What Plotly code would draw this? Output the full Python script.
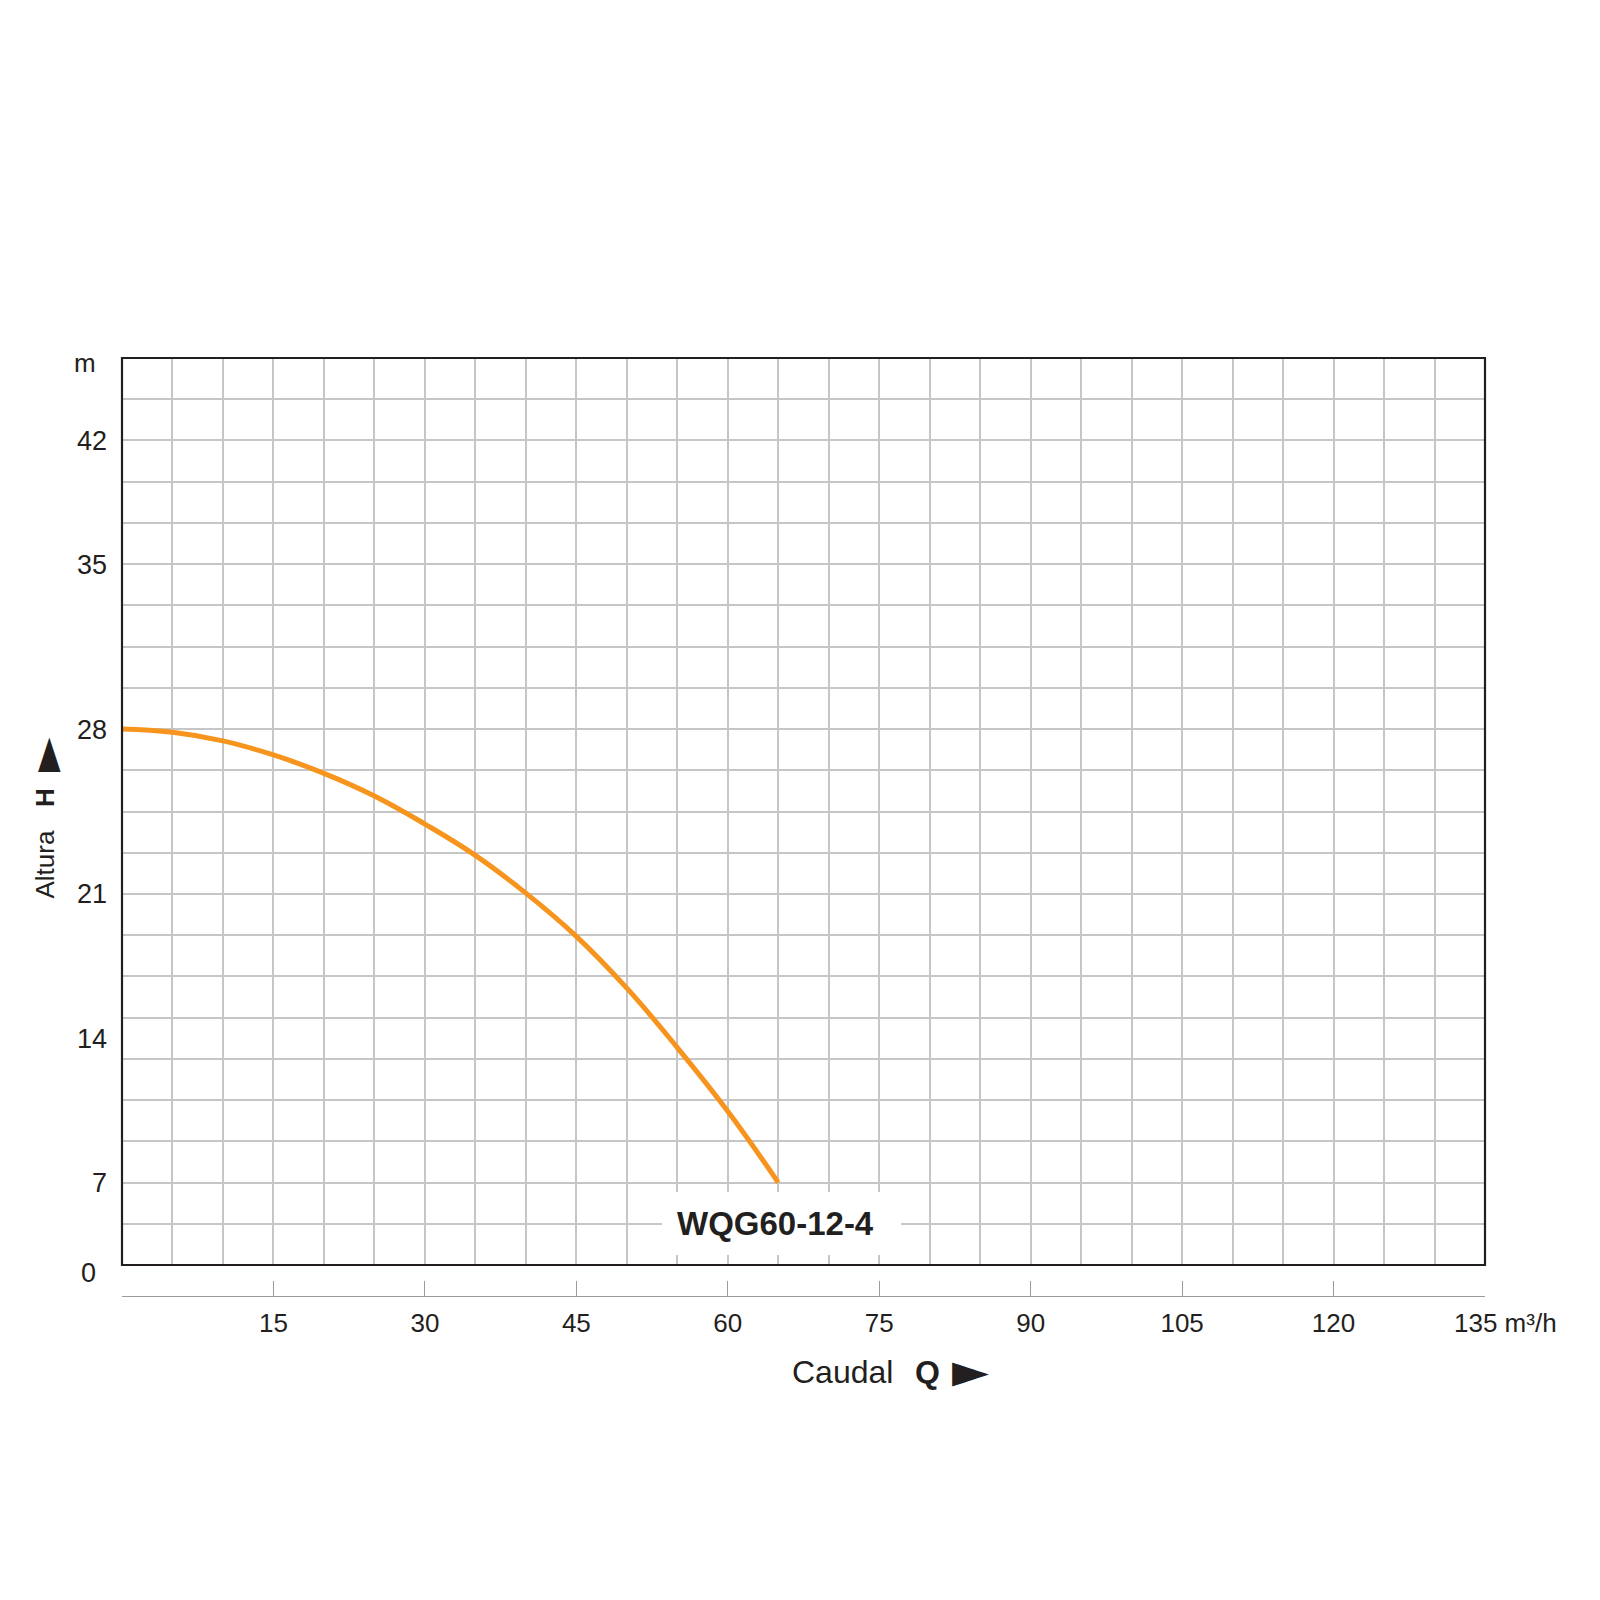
import plotly.graph_objects as go

# ---- data ----
flow_q = [0, 5, 10, 15, 20, 25, 30, 35, 40, 45, 50, 55, 60, 65]          # m³/h
head_h = [28.0, 27.85, 27.45, 26.8, 25.95, 24.9, 23.6, 22.15, 20.4, 18.4, 16.0, 13.25, 10.3, 7.0]  # m
model_name = "WQG60-12-4"

x_tick_vals = [15, 30, 45, 60, 75, 90, 105, 120, 135]
x_tick_text = ["15", "30", "45", "60", "75", "90", "105", "120", ""]
x_end_label = "135 m³/h"

# y labels as printed on the original chart, placed on its 22-row grid
y_tick_text = ["7", "14", "21", "28", "35", "42"]
y_tick_rows = [2, 5.5, 9, 13, 17, 20]
y_bottom_label = "0"
y_unit_label = "m"

x_title_word, x_title_symbol = "Caudal", "Q"
y_title_word, y_title_symbol = "Altura", "H"
arrow_glyph = "►"

# metres per grid row: 28 m sits on row 13 and 7 m on row 2
m_per_row = (28 - 7) / (13 - 2)
y_min_m = 7 - 2 * m_per_row
y_max_m = 7 + 20 * m_per_row
y_tick_vals = [y_min_m + r * m_per_row for r in y_tick_rows]

# ---- layout geometry (page pixels; the page body adds an 8 px offset) ----
OFF = 8
W = HT = 1600 - 2 * OFF
plot_left, plot_right, plot_top, plot_bottom, axis_line = 122, 1485, 358, 1265, 1296
L = plot_left - OFF
R = W - (plot_right - OFF)
T = plot_top - OFF
B = HT - (axis_line - OFF)
dom0 = (axis_line - plot_bottom) / (axis_line - plot_top)

def px(x):
    return (x - plot_left) / (plot_right - plot_left)

def py(y):
    return (axis_line - y) / (axis_line - plot_top)

FONT = "Liberation Sans, Arial, Helvetica, sans-serif"
GLYPH_FONT = "DejaVu Sans, sans-serif"
INK = "#231F20"
GRID = "#C6C6C6"
ORANGE = "#F7941D"

fig = go.Figure()
fig.add_trace(go.Scatter(
    x=flow_q, y=head_h, mode="lines",
    line=dict(color=ORANGE, width=5, shape="spline", smoothing=1.2),
    hoverinfo="x+y", showlegend=False, name=model_name,
))

fig.update_layout(
    width=W, height=HT,
    margin=dict(l=L, r=R, t=T, b=B, pad=0),
    paper_bgcolor="white", plot_bgcolor="white",
    font=dict(family=FONT, color=INK, size=26),
    showlegend=False,
    xaxis=dict(
        domain=[0, 1], range=[0, 135], anchor="free", position=0,
        tickmode="array", tickvals=x_tick_vals, ticktext=x_tick_text,
        ticks="inside", ticklen=15, tickwidth=1.2, tickcolor="#9A9A9A",
        showline=True, linecolor="#9A9A9A", linewidth=1.2,
        showgrid=True, gridcolor=GRID, gridwidth=1.5,
        minor=dict(tick0=0, dtick=5, showgrid=True, gridcolor=GRID,
                   gridwidth=1.5, ticks=""),
        zeroline=False,
        tickfont=dict(size=26, color=INK, family=FONT),
        ticklabelstandoff=4,
    ),
    yaxis=dict(
        domain=[dom0, 1], range=[y_min_m, y_max_m], anchor="x",
        tickmode="array", tickvals=y_tick_vals, ticktext=y_tick_text,
        ticks="", showgrid=False, showline=False, zeroline=False,
        minor=dict(tick0=y_min_m, dtick=m_per_row, showgrid=True,
                   gridcolor=GRID, gridwidth=1.5, ticks=""),
        tickfont=dict(size=27, color=INK, family=FONT),
        ticklabelstandoff=14,
    ),
)

# white box behind the model label
fig.add_shape(type="rect", xref="paper", yref="paper",
              x0=px(662), x1=px(901), y0=py(1255), y1=py(1192),
              line=dict(width=0), fillcolor="white", layer="above")
# plot frame
fig.add_shape(type="rect", xref="paper", yref="paper",
              x0=0, x1=1, y0=dom0, y1=1,
              line=dict(color=INK, width=2.2), fillcolor="rgba(0,0,0,0)",
              layer="above")

def note(text, x, y, size, xanchor="center", angle=0, family=FONT):
    return dict(text=text, x=px(x), y=py(y), xref="paper", yref="paper",
                showarrow=False, xanchor=xanchor, yanchor="middle",
                textangle=angle, font=dict(size=size, color=INK, family=family))

ann = [
    note(y_unit_label, 85, 363, 26),
    note(y_bottom_label, 88.5, 1273, 27),
    note(x_end_label, 1452, 1323, 26, xanchor="left"),
    note("<b>" + model_name + "</b>", 775, 1223, 33),
    note(x_title_word, 790, 1372, 32, xanchor="left"),
    note("<b>" + x_title_symbol + "</b>", 913, 1372, 32, xanchor="left"),
    note(arrow_glyph, 970, 1370, 48, family=GLYPH_FONT),
    note(y_title_word, 44.5, 865, 26, angle=-90),
    note("<b>" + y_title_symbol + "</b>", 44.5, 797.5, 26, angle=-90),
    note(arrow_glyph, 45, 755, 45, angle=-90, family=GLYPH_FONT),
]
fig.update_layout(annotations=ann)

fig.write_html("out.html")
